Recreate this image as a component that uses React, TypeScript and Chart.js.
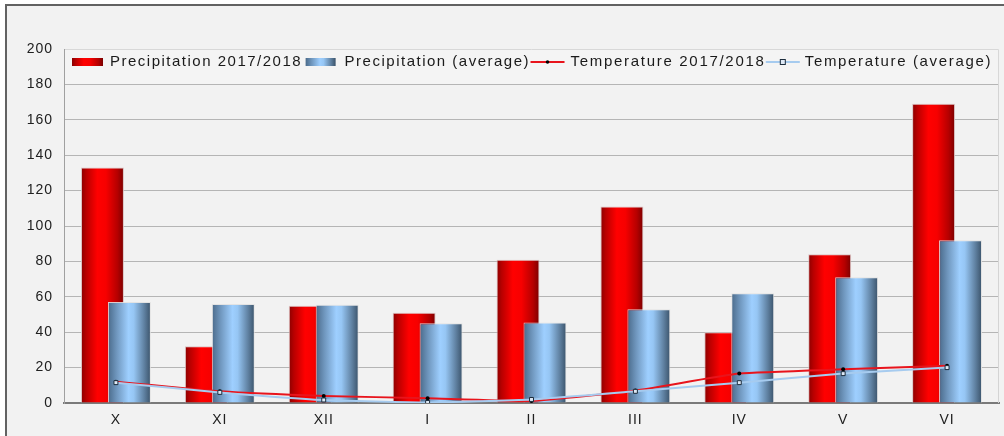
import React, { useEffect, useRef } from "react";
import { Chart, registerables } from "chart.js";

Chart.register(...registerables);

// ---- data ----
const months = ["X", "XI", "XII", "I", "II", "III", "IV", "V", "VI"];
const precip2017 = [133, 32, 55, 51, 81, 111, 40, 84, 169];
const precipAvg = [57, 56, 55.5, 45, 45.5, 53, 62, 71, 92];
const temp2017 = [12, 6.6, 4, 2.7, 1.2, 7, 16.6, 19, 21];
const tempAvg = [11.5, 6, 1.7, 0.3, 2, 6.6, 11.5, 16.6, 20];
const seriesNames = [
  "Precipitation 2017/2018",
  "Precipitation (average)",
  "Temperature 2017/2018",
  "Temperature (average)",
];
const yMin = 0;
const yMax = 200;
const yStep = 20;

// ---- styling ----
const CAT_PCT = 0.519;
const BAR_PCT = 1.593;
const FONT = '"Liberation Sans", Arial, sans-serif';
const RED_STOPS: [number, string][] = [
  [0, "#8a0000"],
  [0.12, "#b80000"],
  [0.38, "#ff0000"],
  [0.58, "#f70000"],
  [0.85, "#b50000"],
  [1, "#7a0000"],
];
const BLUE_STOPS: [number, string][] = [
  [0, "#4a6a8a"],
  [0.2, "#6f96bd"],
  [0.48, "#9ecfff"],
  [0.6, "#96c6f4"],
  [0.85, "#5e7f9f"],
  [1, "#3a5269"],
];
// legend item layout: [swatch gap before, swatch width, gap to text, letter spacing]
const LEGEND_LAYOUT: [number, number, number, number][] = [
  [0, 31, 7, 1.5],
  [5, 30, 9, 1.5],
  [2, 34, 6, 1.7],
  [2, 34, 5, 1.65],
];

const RED_BAR = 0;
const BLUE_BAR = 1;

function makeBarBg(stops: [number, string][], fallback: string, side: number) {
  return (context: any) => {
    const chart = context.chart;
    const scale = chart.scales && chart.scales.x;
    if (!scale || !chart.chartArea || context.type !== "data") return fallback;
    const xc = scale.getPixelForValue(context.dataIndex);
    const catW = scale.width / months.length;
    const slot = (catW * CAT_PCT) / 2;
    const center = xc + (side * slot) / 2;
    const half = (slot * BAR_PCT) / 2;
    const l = center - half;
    const r = center + half;
    if (!Number.isFinite(l) || !Number.isFinite(r) || r <= l) return fallback;
    const g = chart.ctx.createLinearGradient(l, 0, r, 0);
    stops.forEach(([o, c]) => g.addColorStop(o, c));
    return g;
  };
}

const spacingPlugin = {
  id: "spacing",
  beforeUpdate(chart: any) {
    chart.ctx.letterSpacing = "1px";
  },
  beforeLayout(chart: any) {
    chart.ctx.letterSpacing = "1px";
  },
  beforeDraw(chart: any) {
    chart.ctx.letterSpacing = "1px";
  },
};

// Draw the right-hand (average) bars above the left-hand (2017/2018) bars
const overlapPlugin = {
  id: "overlapOrder",
  beforeDatasetDraw(chart: any, args: any) {
    if (args.index === BLUE_BAR && !chart.$drawingBlue) return false;
    return true;
  },
  afterDatasetDraw(chart: any, args: any) {
    if (args.index === RED_BAR) {
      const meta = chart.getDatasetMeta(BLUE_BAR);
      if (meta && meta.visible) {
        chart.$drawingBlue = true;
        meta.controller.draw();
        chart.$drawingBlue = false;
      }
    }
  },
};

const legendPlugin = {
  id: "boxLegend",
  afterDraw(chart: any) {
    const ctx = chart.ctx;
    const a = chart.chartArea;
    ctx.save();
    ctx.strokeStyle = "#d4d4d4";
    ctx.lineWidth = 1;
    ctx.beginPath();
    ctx.moveTo(a.right - 0.5, a.top);
    ctx.lineTo(a.right - 0.5, a.bottom);
    ctx.stroke();
    const h = 35;
    ctx.fillStyle = "#f4f4f4";
    ctx.fillRect(a.left + 1, a.top, a.right - a.left - 1, h);
    ctx.strokeStyle = "#d8d8d8";
    ctx.beginPath();
    ctx.moveTo(a.left + 1, a.top + 0.5);
    ctx.lineTo(a.right - 0.5, a.top + 0.5);
    ctx.lineTo(a.right - 0.5, a.top + h);
    ctx.stroke();

    ctx.font = "15px " + FONT;
    ctx.textBaseline = "alphabetic";
    ctx.textAlign = "left";
    const cy = a.top + 13;
    let x = a.left + 8;
    seriesNames.forEach((name, i) => {
      const [gapBefore, w, gapText, spacing] = LEGEND_LAYOUT[i];
      x += gapBefore;
      if (i < 2) {
        const g = ctx.createLinearGradient(x, 0, x + w, 0);
        (i === 0 ? RED_STOPS : BLUE_STOPS).forEach(([o, c]) => g.addColorStop(o, c));
        ctx.fillStyle = g;
        ctx.fillRect(x, cy - 4, w, 8);
      } else {
        ctx.strokeStyle = i === 2 ? "#e8141c" : "#a6cbef";
        ctx.lineWidth = 2;
        ctx.beginPath();
        ctx.moveTo(x, cy);
        ctx.lineTo(x + w, cy);
        ctx.stroke();
        const mx = x + w / 2;
        if (i === 2) {
          ctx.fillStyle = "#000";
          ctx.beginPath();
          ctx.arc(mx, cy, 1.8, 0, Math.PI * 2);
          ctx.fill();
        } else {
          ctx.fillStyle = "#dfe9f5";
          ctx.fillRect(mx - 2.5, cy - 2.5, 5, 5);
          ctx.strokeStyle = "#1c2c3c";
          ctx.lineWidth = 1;
          ctx.strokeRect(mx - 2.5, cy - 2.5, 5, 5);
        }
      }
      x += w + gapText;
      ctx.letterSpacing = spacing + "px";
      ctx.fillStyle = "#1a1a1a";
      ctx.fillText(name, x, cy + 4);
      x += ctx.measureText(name).width - spacing;
    });
    ctx.restore();
  },
};

export default function App() {
  const ref = useRef<HTMLCanvasElement>(null);

  useEffect(() => {
    document.body.style.margin = "0";
    const canvas = ref.current;
    if (!canvas) return;
    const chart = new Chart(canvas, {
      type: "bar",
      data: {
        labels: months,
        datasets: [
          {
            label: seriesNames[0],
            data: precip2017,
            order: 2,
            backgroundColor: makeBarBg(RED_STOPS, "#e00000", -1),
            borderColor: "rgba(215,190,190,0.9)",
            borderWidth: 1,
            categoryPercentage: CAT_PCT,
            barPercentage: BAR_PCT,
          } as any,
          {
            label: seriesNames[1],
            data: precipAvg,
            order: 3,
            backgroundColor: makeBarBg(BLUE_STOPS, "#8cb8e4", 1),
            borderColor: "rgba(225,225,225,0.9)",
            borderWidth: 1,
            categoryPercentage: CAT_PCT,
            barPercentage: BAR_PCT,
          } as any,
          {
            type: "line",
            label: seriesNames[2],
            data: temp2017,
            order: 1,
            borderColor: "#e8141c",
            borderWidth: 2,
            tension: 0.15,
            pointStyle: "circle",
            pointRadius: 2,
            pointBackgroundColor: "#000",
            pointBorderColor: "#000",
            pointBorderWidth: 0,
          } as any,
          {
            type: "line",
            label: seriesNames[3],
            data: tempAvg,
            order: 0,
            borderColor: "#a6cbef",
            borderWidth: 2,
            tension: 0.15,
            pointStyle: "rect",
            pointRadius: 2.8,
            pointBackgroundColor: "#dfe9f5",
            pointBorderColor: "#1c2c3c",
            pointBorderWidth: 1,
          } as any,
        ],
      },
      options: {
        responsive: false,
        animation: false,
        devicePixelRatio: 1,
        layout: { padding: { left: 0, right: 4, top: 49, bottom: 0 } },
        plugins: {
          legend: { display: false },
          tooltip: { enabled: false },
        },
        scales: {
          x: {
            type: "category",
            offset: true,
            grid: { display: false, drawTicks: false },
            border: { display: true, color: "#7a7a7a", width: 2 },
            ticks: {
              color: "#202020",
              font: { size: 14, family: FONT },
              padding: 9,
              maxRotation: 0,
              autoSkip: false,
            },
            afterFit: (s: any) => {
              s.height = 33;
            },
          },
          y: {
            min: yMin,
            max: yMax,
            grid: {
              color: (c: any) => (c.tick && c.tick.value === 0 ? "#7a7a7a" : "#b5b5b5"),
              drawTicks: false,
              lineWidth: 1,
            },
            border: { display: true, color: "#a0a0a0", width: 1 },
            ticks: {
              stepSize: yStep,
              color: "#202020",
              font: { size: 14, family: FONT },
              padding: 11,
            },
            afterFit: (s: any) => {
              s.width = 64;
            },
          },
        },
      },
      plugins: [spacingPlugin, overlapPlugin, legendPlugin],
    });
    return () => chart.destroy();
  }, []);

  return (
    <div
      style={{
        position: "relative",
        width: 1004,
        height: 436,
        overflow: "hidden",
        background: "#ffffff",
      }}
    >
      <div
        style={{
          position: "absolute",
          left: 5,
          top: 4,
          width: 1010,
          height: 450,
          borderLeft: "2px solid #626262",
          borderTop: "2px solid #626262",
          background: "#f2f2f2",
          boxSizing: "border-box",
        }}
      />
      <canvas
        ref={ref}
        width={1004}
        height={436}
        style={{ position: "absolute", left: 0, top: 0, display: "block" }}
      />
    </div>
  );
}
